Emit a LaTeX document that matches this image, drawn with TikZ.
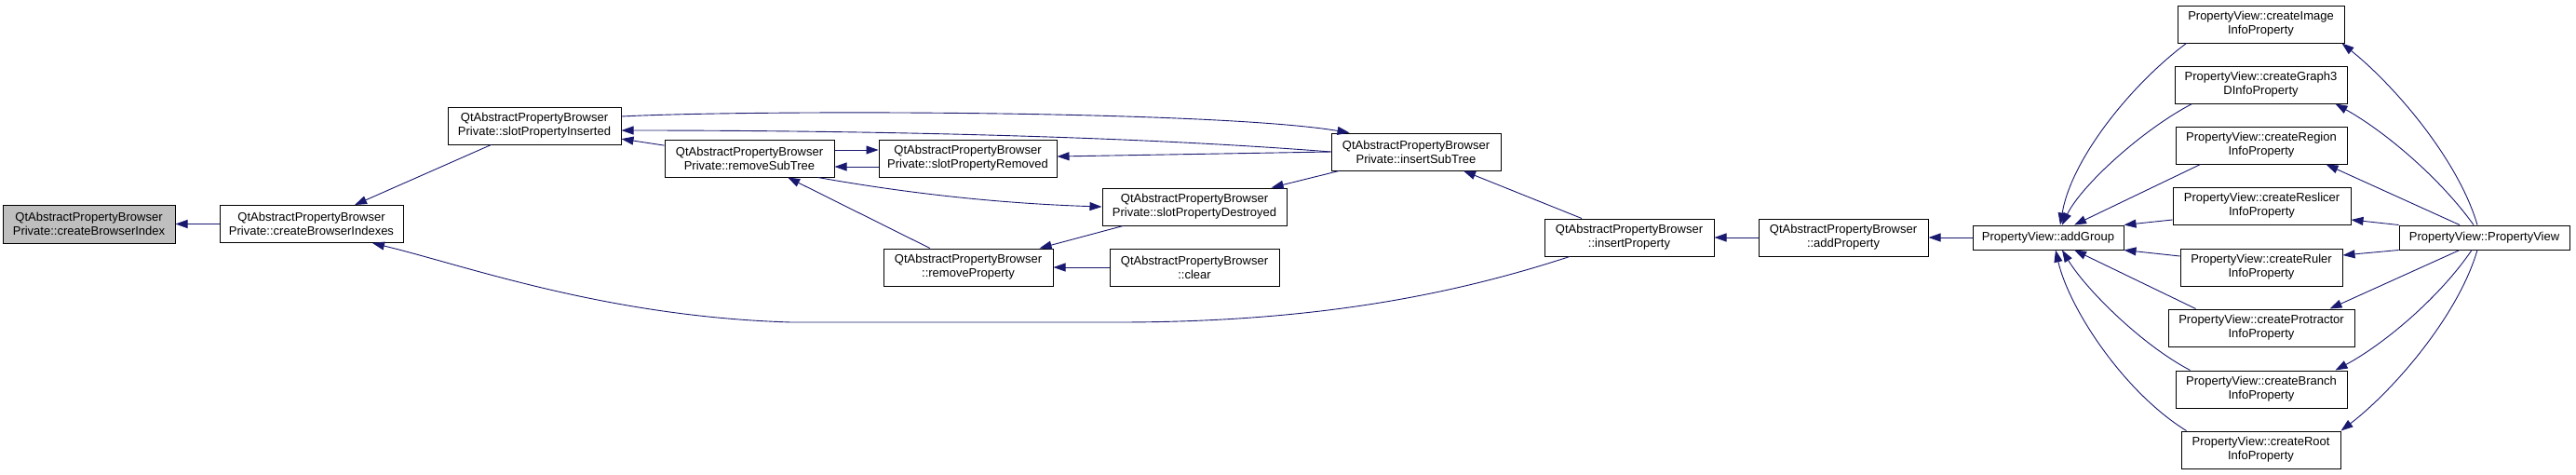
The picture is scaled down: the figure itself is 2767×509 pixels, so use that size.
\documentclass[tikz,border=0pt]{standalone}
\usepackage{fontspec}
\setmainfont{Liberation Sans}
\usetikzlibrary{arrows.meta}
\definecolor{edgeblue}{RGB}{25,25,112}
\definecolor{boxgray}{RGB}{191,191,191}

\begin{document}
\begin{tikzpicture}[x=1pt,y=-1pt,
		fn/.style={draw=black,line width=1pt,fill=white,align=center,inner sep=0pt,
			minimum height=40,font=\fontsize{13}{15}\selectfont},
		call/.style={draw=edgeblue,line width=0.9pt,-{Triangle[length=13pt,width=9pt]}}]
		\useasboundingbox (0,0) rectangle (2767,509);
		
		% browser private
		\node[fn,fill=boxgray,minimum width=185,minimum height=41] (cbi) at (95.5,240.5) {QtAbstractPropertyBrowser\\Private::createBrowserIndex};
		\node[fn,minimum width=197] (cbis) at (334.5,240.5) {QtAbstractPropertyBrowser\\Private::createBrowserIndexes};
		\node[fn,minimum width=186] (spi) at (574,135) {QtAbstractPropertyBrowser\\Private::slotPropertyInserted};
		\node[fn,minimum width=182] (rst) at (805,170) {QtAbstractPropertyBrowser\\Private::removeSubTree};
		\node[fn,minimum width=191] (spr) at (1039.5,170) {QtAbstractPropertyBrowser\\Private::slotPropertyRemoved};
		\node[fn,minimum width=198] (spd) at (1283,222) {QtAbstractPropertyBrowser\\Private::slotPropertyDestroyed};
		\node[fn,minimum width=182] (ist) at (1521,163) {QtAbstractPropertyBrowser\\Private::insertSubTree};
		\node[fn,minimum width=182] (rp) at (1040,287) {QtAbstractPropertyBrowser\\::removeProperty};
		\node[fn,minimum width=182] (clr) at (1283,287) {QtAbstractPropertyBrowser\\::clear};
		\node[fn,minimum width=182] (ip) at (1750,255) {QtAbstractPropertyBrowser\\::insertProperty};
		\node[fn,minimum width=182] (ap) at (1980,255) {QtAbstractPropertyBrowser\\::addProperty};
		
		% property view
		\node[fn,minimum width=162,minimum height=26] (ag) at (2200,255) {PropertyView::addGroup};
		\node[fn,minimum width=183,minimum height=26] (pv) at (2668.5,255) {PropertyView::PropertyView};
		\node[fn,minimum width=179] (img) at (2428.5,26) {PropertyView::createImage\\InfoProperty};
		\node[fn,minimum width=185] (g3d) at (2428.5,91) {PropertyView::createGraph3\\DInfoProperty};
		\node[fn,minimum width=184] (reg) at (2429,156) {PropertyView::createRegion\\InfoProperty};
		\node[fn,minimum width=191] (rsl) at (2429.5,221) {PropertyView::createReslicer\\InfoProperty};
		\node[fn,minimum width=174] (rul) at (2429,287) {PropertyView::createRuler\\InfoProperty};
		\node[fn,minimum width=200] (pro) at (2429,352) {PropertyView::createProtractor\\InfoProperty};
		\node[fn,minimum width=184] (bra) at (2429,418) {PropertyView::createBranch\\InfoProperty};
		\node[fn,minimum width=171] (roo) at (2428.5,483) {PropertyView::createRoot\\InfoProperty};
		
		% straight calls
		\foreach \a/\b in {cbis/cbi,spi/cbis,rst/spi,ist/spd,spd/rp,rp/rst,clr/rp,ip/ist,ap/ip,ag/ap}
		\draw[call] (\a) -- (\b);
		
		% rst <-> spr
		\draw[call] ([yshift=9]rst.east) -- ([yshift=9]spr.west);
		\draw[call] ([yshift=-9]spr.west) -- ([yshift=-9]rst.east);
		\draw[call] (ist.west) -- ([yshift=2]spr.east);
		
		% spi <-> ist
		\draw[call] ([yshift=10]spi.east) .. controls (800,118) and (1300,118) .. ([xshift=20]ist.north west);
		\draw[call] (ist.west) .. controls (1200,145) and (900,140) .. ([yshift=-5]spi.east);
		\draw[call] ([xshift=-18]rst.south east) .. controls (960,205) and (1060,218) .. (spd.west);
		
		% long way back
		\draw[call] ([xshift=-64]ip.south) .. controls (1550,320) and (1400,346) .. (1200,346) -- (850,346)
		.. controls (650,340) and (500,285) .. ([xshift=65.5]cbis.south);
		
		% into addGroup
		\draw[call] ([xshift=10]img.south west) .. controls (2290,90) and (2225,170) .. ([xshift=13]ag.north);
		\draw[call] ([xshift=19]g3d.south west) .. controls (2300,140) and (2235,200) .. ([xshift=15]ag.north);
		\draw[call] ([xshift=27]reg.south west) -- ([xshift=28]ag.north);
		\draw[call] ([yshift=-15]rsl.west) -- (ag.north east);
		\draw[call] ([yshift=12]rul.west) -- (ag.south east);
		\draw[call] ([xshift=30]pro.north west) -- ([xshift=28]ag.south);
		\draw[call] ([xshift=16]bra.north west) .. controls (2300,370) and (2240,310) .. ([xshift=15]ag.south);
		\draw[call] ([xshift=6]roo.north west) .. controls (2280,420) and (2222,330) .. ([xshift=8]ag.south);
		
		% from PropertyView
		\draw[call] ([xshift=-7.5]pv.north) .. controls (2640,170) and (2570,90) .. ([xshift=-3]img.south east);
		\draw[call] ([xshift=-11.5]pv.north) .. controls (2620,190) and (2560,140) .. ([xshift=-13]g3d.south east);
		\draw[call] ([xshift=-26.5]pv.north) -- ([xshift=-23]reg.south east);
		\draw[call] (pv.north west) -- ([yshift=-15]rsl.east);
		\draw[call] (pv.south west) -- ([yshift=13]rul.east);
		\draw[call] ([xshift=-26.5]pv.south) -- ([xshift=-27]pro.north east);
		\draw[call] ([xshift=-13.5]pv.south) .. controls (2620,320) and (2560,370) .. ([xshift=-13]bra.north east);
		\draw[call] ([xshift=-7.5]pv.south) .. controls (2640,340) and (2570,420) .. (roo.north east);
	\end{tikzpicture}
\end{document}
